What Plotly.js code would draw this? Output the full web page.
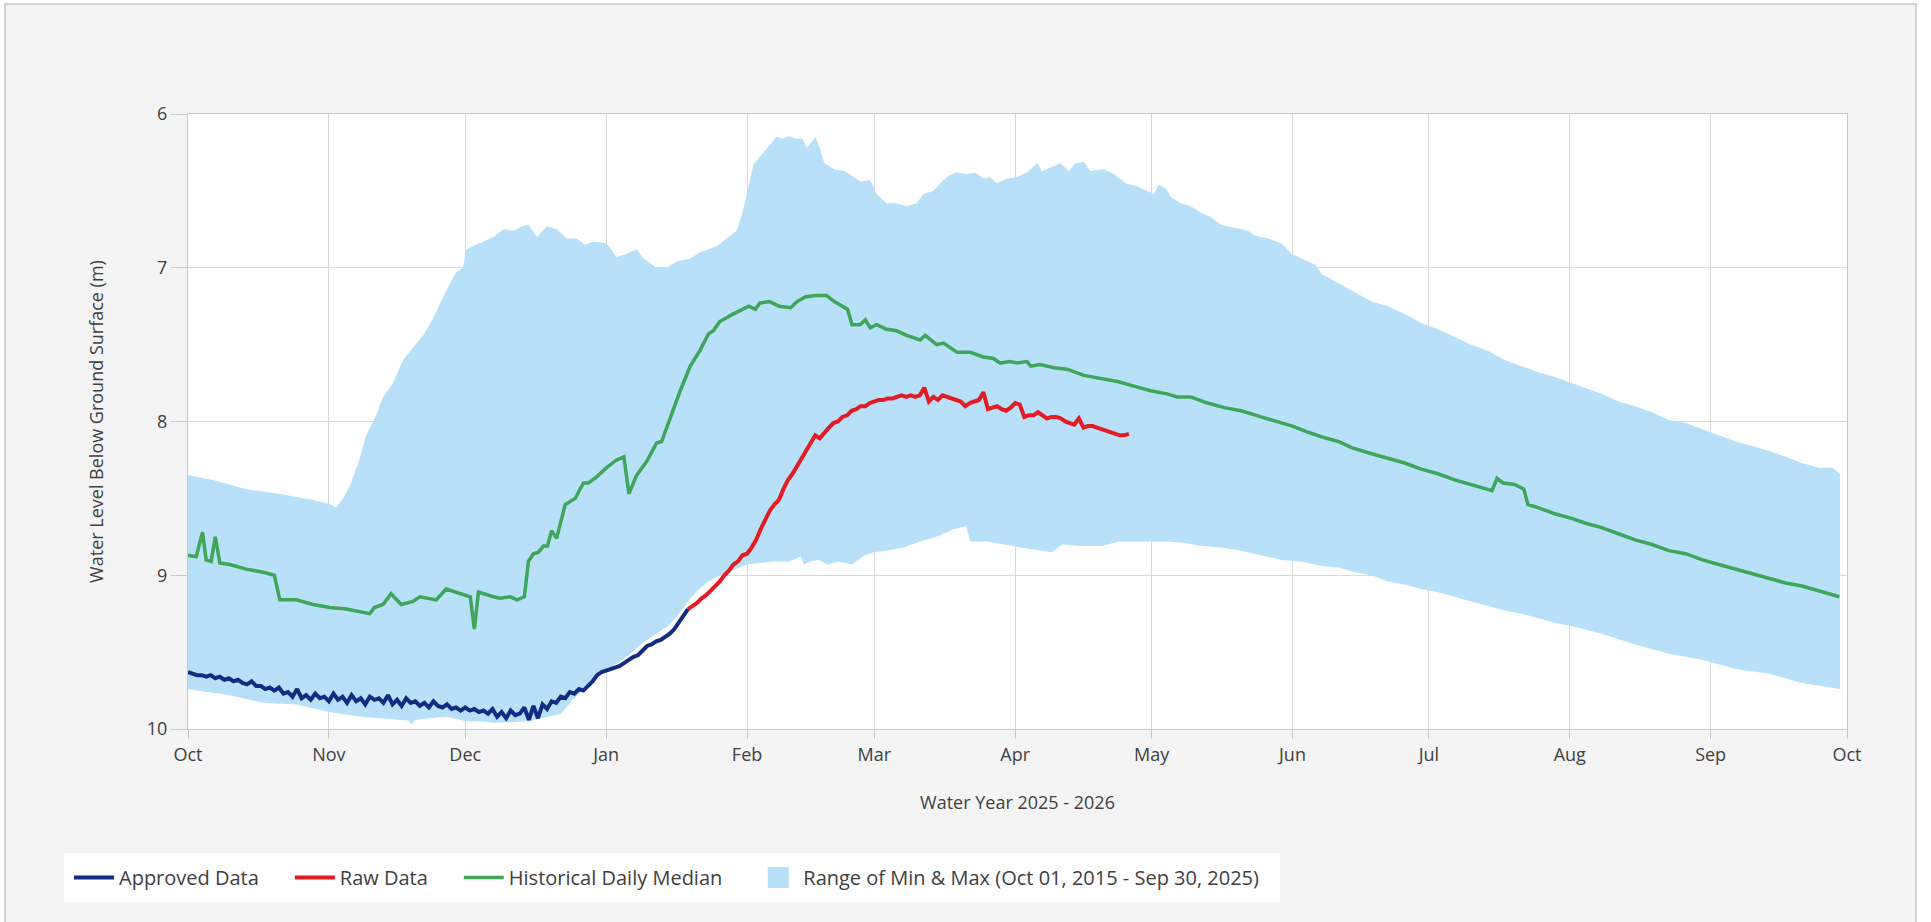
<!DOCTYPE html>
<html>
<head>
<meta charset="utf-8">
<script src="https://cdn.plot.ly/plotly-3.0.1.min.js"></script>
<style>html,body{margin:0;padding:0;background:#fff;}#chart{width:1931px;height:922px;}</style>
</head>
<body>
<div id="chart"></div>
<script>
// ---------------- DATA (day offsets from 2025-10-01, depths in m below ground) ----------------
const waterYearStart = '2025-10-01';

// Approved data: daily values starting at day 0 (Oct 1)
const approvedStartDay = 0;
const approvedDepth = [
  9.63, 9.64, 9.65, 9.65, 9.66, 9.65, 9.67, 9.66, 9.68, 9.67,
  9.69, 9.68, 9.70, 9.71, 9.69, 9.72, 9.72, 9.74, 9.73, 9.75,
  9.73, 9.77, 9.76, 9.79, 9.74, 9.80, 9.78, 9.81, 9.77, 9.80,
  9.79, 9.82, 9.77, 9.81, 9.79, 9.83, 9.78, 9.82, 9.80, 9.84,
  9.79, 9.81, 9.80, 9.83, 9.78, 9.84, 9.81, 9.85, 9.80, 9.83,
  9.82, 9.85, 9.83, 9.86, 9.82, 9.85, 9.86, 9.84, 9.87, 9.86,
  9.88, 9.86, 9.88, 9.87, 9.89, 9.88, 9.90, 9.87, 9.92, 9.89,
  9.93, 9.88, 9.91, 9.90, 9.86, 9.94, 9.85, 9.93, 9.84, 9.87,
  9.82, 9.83, 9.79, 9.80, 9.76, 9.77, 9.74, 9.75, 9.72, 9.69,
  9.65, 9.63, 9.62, 9.61, 9.60, 9.59, 9.57, 9.55, 9.53, 9.52,
  9.49, 9.46, 9.45, 9.43, 9.42, 9.40, 9.38, 9.35, 9.31, 9.27, 9.22
];

// Raw data: daily values starting at day 110 (Jan 19)
const rawStartDay = 110;
const rawDepth = [
  9.22, 9.20, 9.18, 9.15, 9.13, 9.10, 9.07, 9.04, 9.00, 8.97,
  8.93, 8.91, 8.87, 8.86, 8.82, 8.77, 8.70, 8.64, 8.58, 8.54,
  8.51, 8.44, 8.38, 8.34, 8.29, 8.25, 8.20, 8.15, 8.09, 8.11,
  8.07, 8.04, 8.01, 8.00, 7.97, 7.96, 7.93, 7.92, 7.90, 7.90,
  7.88, 7.87, 7.86, 7.86, 7.85, 7.85, 7.84, 7.83, 7.84, 7.83,
  7.84, 7.83, 7.78, 7.87, 7.84, 7.86, 7.83, 7.84, 7.85, 7.86,
  7.87, 7.90, 7.88, 7.87, 7.86, 7.81, 7.92, 7.91, 7.90, 7.92,
  7.93, 7.91, 7.88, 7.89, 7.97, 7.96, 7.96, 7.94, 7.96, 7.98,
  7.97, 7.97, 7.98, 8.00, 8.01, 8.02, 7.98, 8.04, 8.03, 8.03,
  8.04, 8.05, 8.06, 8.07, 8.08, 8.09, 8.09, 8.08
];

// Historical daily median
const medianDay = [0, 1.8, 3.2, 4, 5.1, 6, 7, 9.2, 12.8, 16.5, 19, 20.2, 23.8, 27.5, 31.2, 34.8, 40, 41, 42.9, 44.7,
  46.9, 49.5, 51, 54.6, 56.8, 59.9, 62.1, 63, 63.9, 67.2, 68.7, 70.9, 72.4, 74, 74.9, 76, 77.1, 78.2, 79.1, 80,
  81.1, 83, 85.2, 87, 88.1, 89.9, 92.1, 94.3, 95.9, 97, 98.7, 100.9, 103.1, 104.2, 106.1, 108.3, 110.5, 112.6, 114.5, 115.6,
  117, 120, 123.4, 124.8, 125.8, 127.9, 130.1, 132.6, 134, 135.8, 138, 140.5, 142.2, 145.1, 146.1, 147.9, 149, 150.1, 151.5, 153.7,
  155.9, 158.1, 161.1, 162.2, 164.7, 166.2, 169.2, 172.1, 175, 177.2, 178.7, 180.9, 182.4, 184.6, 185.4, 187.5, 190.5, 193.4, 197.1, 200.8,
  204.5, 208.1, 211.8, 215.4, 217.6, 220.6, 224.3, 228, 231.7, 236.1, 240.6, 243, 246.5, 249.4, 253.1, 256, 260.4, 264, 267.7, 271.3,
  275, 278.7, 282.3, 286.9, 288, 289.3, 291.9, 293.9, 294.8, 297, 300.7, 304.4, 307.3, 311, 314.7, 318.4, 322.1, 325.8, 329.5, 333.2,
  336.8, 340.5, 344.1, 347.8, 351.5, 355.1, 358.8, 363.3];
const medianDepth = [8.87, 8.88, 8.72, 8.90, 8.91, 8.75, 8.92, 8.93, 8.96, 8.98, 9.00, 9.16, 9.16, 9.19, 9.21, 9.22, 9.25, 9.21, 9.19, 9.12,
  9.19, 9.17, 9.14, 9.16, 9.09, 9.12, 9.14, 9.35, 9.11, 9.14, 9.15, 9.14, 9.16, 9.14, 8.91, 8.86, 8.85, 8.81, 8.81, 8.71,
  8.76, 8.54, 8.50, 8.40, 8.40, 8.36, 8.30, 8.25, 8.23, 8.47, 8.35, 8.26, 8.14, 8.13, 7.97, 7.80, 7.64, 7.54, 7.43, 7.41,
  7.35, 7.30, 7.25, 7.27, 7.23, 7.22, 7.25, 7.26, 7.22, 7.19, 7.18, 7.18, 7.22, 7.27, 7.37, 7.37, 7.34, 7.39, 7.37, 7.40,
  7.41, 7.44, 7.47, 7.44, 7.50, 7.49, 7.55, 7.55, 7.58, 7.59, 7.62, 7.61, 7.62, 7.61, 7.64, 7.63, 7.65, 7.66, 7.70, 7.72,
  7.74, 7.77, 7.80, 7.82, 7.84, 7.84, 7.88, 7.91, 7.93, 7.97, 8.01, 8.03, 8.07, 8.10, 8.13, 8.17, 8.21, 8.24, 8.27, 8.31,
  8.34, 8.38, 8.41, 8.45, 8.37, 8.40, 8.41, 8.44, 8.54, 8.56, 8.60, 8.63, 8.66, 8.69, 8.73, 8.77, 8.80, 8.84, 8.86, 8.90,
  8.93, 8.96, 8.99, 9.02, 9.05, 9.07, 9.10, 9.14];

// Range of min & max: shallow edge (top of band)
const rangeTopDay = [0, 5.5, 12.8, 20, 27.5, 31.5, 32.6, 34.1, 35.6, 37.7, 39.2, 41.4, 42.9, 45.1, 47.3, 49.5, 51.7, 53.9, 56.8, 59,
  60.5, 61.2, 64.1, 67.2, 69.4, 71.6, 73.5, 74.9, 76.8, 79, 81.1, 83.3, 85.5, 87.4, 89.2, 92.1, 94.3, 96.5, 98.7, 100.2,
  103.1, 105.3, 107.5, 110.5, 112.6, 116.3, 118.5, 120.7, 121.8, 122.9, 123.4, 124.4, 125.5, 126.9, 128.3, 129.4, 130.8, 132.3, 133.7, 135.1,
  136.2, 138, 139, 140, 142.2, 144.4, 146.5, 147.9, 150.1, 151.5, 153.7, 155.9, 158.1, 160.3, 161.8, 164, 165.5, 166.9, 168.8, 171.4,
  173.2, 175, 176.5, 178, 180.2, 182.4, 184.6, 186.8, 187.9, 190.5, 191.9, 193.8, 195.2, 197.1, 198.5, 201.5, 203.7, 206.3, 208.8, 211,
  212.5, 213.6, 215.3, 216.2, 218.4, 220.6, 222.8, 225, 227.3, 230.2, 233.2, 234.7, 237.6, 240.6, 242.8, 245, 248, 249.4, 253.1, 256.7,
  260.4, 264, 267.7, 271.3, 275, 278.7, 282.3, 286, 289.7, 293.4, 297.1, 300.7, 304.4, 307.3, 311, 314.7, 318.4, 322.1, 325.8, 329.5,
  333.2, 336.8, 340.5, 344.1, 347.8, 351.5, 355.1, 358.8, 361.7, 363.5];
const rangeTop = [8.35, 8.38, 8.44, 8.47, 8.51, 8.54, 8.56, 8.50, 8.42, 8.25, 8.09, 7.96, 7.84, 7.75, 7.60, 7.52, 7.44, 7.33, 7.15, 7.03,
  7.00, 6.88, 6.84, 6.80, 6.75, 6.76, 6.73, 6.72, 6.80, 6.73, 6.75, 6.81, 6.81, 6.85, 6.83, 6.84, 6.93, 6.91, 6.88, 6.94,
  7.00, 7.00, 6.96, 6.94, 6.90, 6.86, 6.81, 6.76, 6.66, 6.53, 6.46, 6.33, 6.29, 6.24, 6.19, 6.15, 6.16, 6.145, 6.16, 6.16,
  6.22, 6.15, 6.22, 6.32, 6.36, 6.37, 6.41, 6.44, 6.43, 6.52, 6.58, 6.58, 6.60, 6.58, 6.52, 6.50, 6.45, 6.41, 6.38, 6.39,
  6.38, 6.42, 6.41, 6.45, 6.42, 6.41, 6.38, 6.32, 6.37, 6.34, 6.32, 6.37, 6.32, 6.31, 6.37, 6.36, 6.39, 6.45, 6.47, 6.50,
  6.52, 6.46, 6.49, 6.54, 6.58, 6.60, 6.64, 6.67, 6.72, 6.74, 6.76, 6.79, 6.81, 6.84, 6.91, 6.94, 6.98, 7.04, 7.10, 7.16,
  7.22, 7.25, 7.30, 7.36, 7.40, 7.45, 7.50, 7.54, 7.60, 7.64, 7.68, 7.71, 7.75, 7.78, 7.82, 7.87, 7.90, 7.94, 7.99, 8.01,
  8.05, 8.09, 8.13, 8.16, 8.19, 8.23, 8.27, 8.30, 8.30, 8.34];

// Range of min & max: deep edge (bottom of band)
const rangeBottomDay = [0, 2, 9.2, 16.5, 23.8, 31, 38, 48.5, 49.2, 50, 56.8, 61.2, 64, 67.2, 75, 82, 85, 88, 91, 94,
  97, 100, 103, 106, 108, 110, 112, 114.5, 117, 119.5, 123, 125.8, 128.7, 132.3, 134.8, 135.5, 136.9, 138.7, 140.8, 143,
  146.1, 148.6, 150.8, 153.7, 157.4, 161.1, 164.7, 168.4, 171.2, 172.1, 175.8, 179.5, 183.2, 187.9, 190.1, 192.3, 196.7, 201.1, 204.8, 208.5,
  212, 215.6, 219.3, 223, 227.3, 231.7, 236.1, 240.6, 245, 249.4, 253.1, 256.7, 260.4, 264, 267.7, 271.3, 275, 278.7, 282.3, 286,
  289.7, 293.4, 297.1, 300.7, 304.4, 311, 318.4, 325.8, 333.2, 340.5, 347.8, 355.1, 363.5];
const rangeBottom = [9.74, 9.75, 9.78, 9.83, 9.84, 9.89, 9.92, 9.945, 9.97, 9.94, 9.92, 9.95, 9.95, 9.96, 9.95, 9.90, 9.80, 9.72, 9.64, 9.58,
  9.52, 9.44, 9.38, 9.32, 9.25, 9.17, 9.10, 9.04, 9.00, 8.97, 8.93, 8.92, 8.91, 8.91, 8.88, 8.93, 8.91, 8.90, 8.93, 8.91,
  8.93, 8.875, 8.85, 8.84, 8.82, 8.78, 8.75, 8.70, 8.68, 8.78, 8.78, 8.80, 8.82, 8.84, 8.85, 8.80, 8.81, 8.81, 8.78, 8.78,
  8.78, 8.78, 8.79, 8.81, 8.82, 8.84, 8.87, 8.90, 8.91, 8.94, 8.95, 8.98, 9.00, 9.04, 9.06, 9.09, 9.11, 9.14, 9.17, 9.20,
  9.23, 9.25, 9.28, 9.31, 9.33, 9.38, 9.45, 9.51, 9.55, 9.61, 9.64, 9.70, 9.74];

const yTicks = [6, 7, 8, 9, 10];
const legendNames = ['Approved Data', 'Raw Data', 'Historical Daily Median', 'Range of Min & Max (Oct 01, 2015 - Sep 30, 2025)'];

// ---------------- helpers ----------------
const startMs = Date.parse(waterYearStart + 'T00:00:00Z');
function toDate(d) { return new Date(startMs + d * 864e5).toISOString().slice(0, 19).replace('T', ' '); }
function dailyX(start, n) { const a = []; for (let i = 0; i < n; i++) a.push(toDate(start + i)); return a; }
const NB = '\u00a0';
const pad = (s, n) => s + NB.repeat(n);   // spacing between legend entries

const COLORS = { approved: '#132c82', raw: '#e31b23', median: '#3ea55a', range: '#b8e0f8' };

// band polygon: top edge left->right then bottom edge right->left
const bandX = rangeTopDay.map(toDate).concat(rangeBottomDay.slice().reverse().map(toDate));
const bandY = rangeTop.concat(rangeBottom.slice().reverse());

const traces = [
  { x: bandX, y: bandY, type: 'scatter', mode: 'none', fill: 'toself', fillcolor: COLORS.range,
    showlegend: false, hoverinfo: 'skip' },
  { x: medianDay.map(toDate), y: medianDepth, type: 'scatter', mode: 'lines', name: pad(legendNames[2], 5),
    line: { color: COLORS.median, width: 3.5 }, legendrank: 3 },
  { x: dailyX(approvedStartDay, approvedDepth.length), y: approvedDepth, type: 'scatter', mode: 'lines', name: pad(legendNames[0], 5),
    line: { color: COLORS.approved, width: 4 }, legendrank: 1 },
  { x: dailyX(rawStartDay, rawDepth.length), y: rawDepth, type: 'scatter', mode: 'lines', name: pad(legendNames[1], 5),
    line: { color: COLORS.raw, width: 4 }, legendrank: 2 },
  { x: [null], y: [null], type: 'scatter', mode: 'markers', name: pad(legendNames[3], 2),
    marker: { symbol: 'square', size: 16, color: COLORS.range, line: { color: COLORS.range, width: 5 } }, legendrank: 4 }
];

// pixel -> paper helpers for decorative frame
const M = { l: 188, r: 84, t: 114, b: 193 }, W = 1931, H = 922;
const PW = W - M.l - M.r, PH = H - M.t - M.b;
const px = v => (v - M.l) / PW;
const py = v => (H - M.b - v) / PH;

const layout = {
  width: W, height: H,
  margin: M,
  paper_bgcolor: '#ffffff',
  plot_bgcolor: '#ffffff',
  font: { family: '"Open Sans", "Noto Sans", sans-serif', size: 18, color: '#404040' },
  showlegend: true,
  hovermode: false,
  xaxis: {
    type: 'date',
    range: [toDate(0), toDate(365)],
    tick0: waterYearStart, dtick: 'M1', tickformat: '%b',
    showgrid: true, gridcolor: '#d9d9d9', gridwidth: 1,
    ticks: 'outside', ticklen: 9, tickcolor: '#c8c8c8',
    showline: true, linecolor: '#c8c8c8', mirror: true, zeroline: false,
    tickfont: { size: 18, color: '#404040' },
    title: { text: 'Water Year 2025 - 2026', standoff: 31, font: { size: 18, color: '#404040' } }
  },
  yaxis: {
    range: [10, 6], tickvals: yTicks,
    showgrid: true, gridcolor: '#d9d9d9', gridwidth: 1,
    ticks: 'outside', ticklen: 16, tickcolor: '#c8c8c8',
    showline: true, linecolor: '#c8c8c8', mirror: true, zeroline: false,
    tickfont: { size: 18, color: '#404040' },
    title: { text: 'Water Level Below Ground Surface (m)', standoff: 38, font: { size: 18, color: '#404040' } }
  },
  legend: {
    orientation: 'h', x: px(64), xanchor: 'left', y: py(853), yanchor: 'top',
    bgcolor: '#ffffff', bordercolor: '#ffffff', borderwidth: 5,
    font: { size: 20, color: '#404040' }, itemwidth: 40
  },
  shapes: [
    { type: 'rect', xref: 'paper', yref: 'paper', x0: px(5), x1: px(1916), y0: py(4), y1: py(930),
      fillcolor: '#f4f4f4', line: { color: '#c6c6c6', width: 1.5 }, layer: 'below' },
    { type: 'rect', xref: 'paper', yref: 'paper', x0: 0, x1: 1, y0: 0, y1: 1,
      fillcolor: '#ffffff', line: { width: 0 }, layer: 'below' }
  ]
};

Plotly.newPlot('chart', traces, layout, { displayModeBar: false, staticPlot: true });
</script>
</body>
</html>
